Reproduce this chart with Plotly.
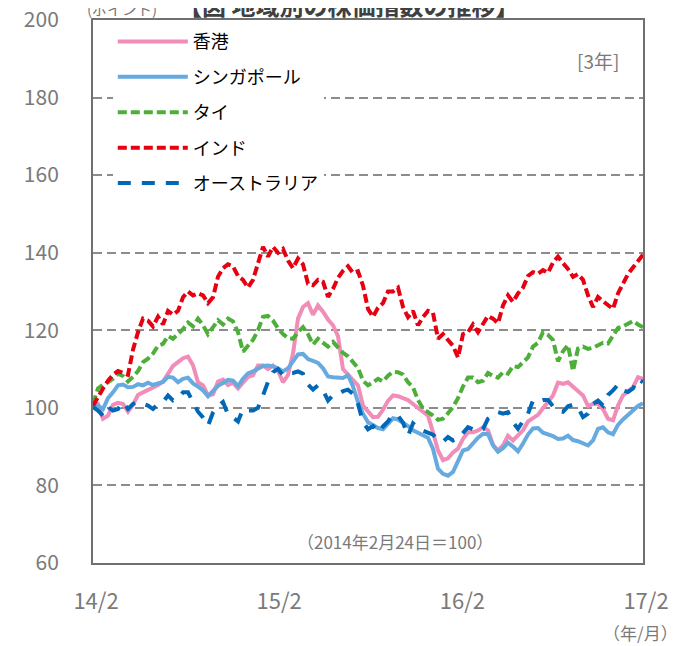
import plotly.graph_objects as go
import pandas as pd

start_date = "2014-02-24"
end_date = "2017-02-24"

series_names = ["香港", "シンガポール", "タイ", "インド", "オーストラリア"]

hongkong = [
    100.6, 101, 97.2, 98, 100.8, 101.3, 101, 99, 100.8, 103.3,
    104, 104.6, 105.3, 105.9, 106.8, 108.8, 110.8, 111.8, 112.8, 113.2,
    111, 106.6, 105.8, 103.2, 103.5, 106.8, 107.3, 105.9, 106.5, 105,
    106.6, 108, 108.4, 110.9, 110.9, 110, 110.9, 109.6, 106.6, 108.5,
    114, 123, 126, 127, 124, 126.4, 124.8, 122.8, 121.3, 118.5,
    110, 108.6, 107.5, 105.8, 100.6, 99, 97.6, 97.7, 99.5, 101.8,
    103.2, 103, 102.5, 102, 101, 100, 99.2, 98, 93.7, 89,
    86.5, 87, 88.5, 89.5, 92, 93.7, 93.7, 94.2, 95, 94.2,
    90.5, 89, 90.3, 92.8, 91.6, 92.8, 94.2, 96.5, 97.3, 98.2,
    99.9, 101.7, 103.2, 106.5, 106.2, 106.6, 105.5, 104.6, 103.2, 100.5,
    101, 101, 99.7, 97.2, 96.8, 100.6, 103.2, 104.3, 105.3, 107.9,
    107.5,
]

singapore = [
    101, 100.6, 99.7, 102.5, 104, 105.8, 106, 105.3, 105.4, 106.1,
    105.8, 106.5, 105.9, 106.2, 106.7, 108, 107.8, 106.6, 107.5, 107.8,
    106.3, 105.5, 104.5, 103, 104.2, 105.7, 106.4, 107.2, 107, 105.6,
    107.5, 108.9, 109.4, 110.1, 110.8, 110.9, 110.7, 110.2, 109.4, 110.2,
    112, 113.8, 113.9, 112.6, 112.1, 111.6, 110.2, 108.1, 107.9, 107.9,
    107.7, 108.4, 105.5, 101.5, 98.5, 96.3, 95.4, 94.8, 94.5, 96,
    97.3, 97, 96.2, 95.3, 94.2, 93.5, 93, 92.3, 89.4, 84.3,
    83, 82.5, 83.5, 86, 89, 89.4, 91, 92.3, 93.3, 93.2,
    90.3, 88.7, 89.6, 91, 90, 88.8, 90.8, 93.1, 94.7, 94.8,
    93.6, 93.2, 92.7, 92, 92.1, 92.8, 91.7, 91.4, 90.8, 90.3,
    91.6, 94.6, 95, 93.7, 93.2, 95.6, 97, 98.2, 99.2, 100.5,
    101.2,
]

thailand = [
    101, 105, 106, 106.6, 107.5, 108.8, 108.2, 106.8, 108, 109.5,
    111.8, 112.7, 114, 116, 116.5, 118.5, 117.8, 119, 120.3, 122,
    121, 123, 121.3, 119, 120.6, 122.6, 121.5, 123, 122.3, 119.5,
    114.5, 116, 117.5, 120, 123.5, 123.7, 122.5, 120.5, 119, 118,
    117.8, 119.5, 120.8, 119, 116.3, 117.8, 116.8, 115.8, 117, 115.7,
    114.2, 113.3, 111.6, 110.3, 107, 105.8, 106.6, 107.5, 106.8, 108.3,
    109.3, 109.2, 108.6, 106.6, 105.3, 102, 99.8, 99, 98, 96.9,
    97.2, 98.6, 100.2, 102.5, 105.5, 107.8, 107.8, 106.6, 107, 109,
    108.2, 107.8, 109.2, 108.8, 110.8, 110.5, 111.9, 113, 115.8, 116.8,
    119.5, 118.8, 117.5, 112, 114.6, 116.2, 109.5, 115.3, 115.8, 115.2,
    115.5, 116.3, 116.8, 116.6, 118.5, 120.6, 121, 121.7, 122.4, 121.5,
    120.8,
]

india = [
    100.5, 103, 105, 107, 108.5, 109.5, 109, 108.5, 115, 119.5,
    123, 122.5, 121, 123.5, 121.5, 125, 124, 125, 128.5, 130,
    129, 129.5, 129, 127, 128.5, 133.8, 136, 137, 136.5, 134,
    133, 131, 133, 137, 141.5, 139, 141.5, 140, 141, 138,
    136, 138.5, 137, 132, 131.6, 133, 132.5, 128.6, 130.7, 133.5,
    135.3, 136.5, 134.8, 135.2, 131.5, 125.5, 123.5, 125.8, 127, 130,
    130, 131, 126, 123.4, 125, 121.3, 123.4, 125, 124.5, 117.8,
    119, 117.5, 116, 113, 119, 119.5, 121.5, 119.5, 121.5, 123.7,
    123, 121.8, 126.4, 129, 127.3, 129.5, 131, 134, 135, 134.6,
    135.5, 134.8, 137.5, 139, 137.3, 135.8, 133.8, 134.5, 133, 129,
    126, 128.6, 127.5, 126.5, 125.5, 129.5, 132, 134.5, 136.2, 138,
    139.5,
]

australia = [
    100.2, 99.3, 98, 100.2, 99.3, 99.7, 101.5, 99.7, 101, 101.5,
    101, 100.6, 99.7, 101, 101.5, 103.2, 101.9, 102.3, 104, 104,
    101.5, 99, 97.5, 95.4, 98.8, 100.5, 101.5, 98.3, 97.5, 96.5,
    99.7, 99.3, 99.3, 100, 103.2, 106.7, 109.2, 110, 108.4, 109,
    109, 109.4, 108.8, 106, 104.7, 105.8, 104.5, 101.9, 103.3, 103.5,
    104.3, 104.7, 103.6, 101, 96.3, 94.5, 95.3, 93.7, 95.2, 96.5,
    98.3, 98, 96.2, 92.8, 96, 94.8, 94.1, 93.6, 93.1, 91.8,
    91.3, 92.5, 91.6, 92, 93.7, 95, 94.5, 94, 94.5, 97.2,
    98, 98.9, 98.5, 98.9, 96.3, 94.6, 96.6, 98.5, 101.9, 101.6,
    102, 102, 100.4, 99.2, 99, 100.4, 100.8, 100.1, 97.6, 98.5,
    101, 101.9, 100.6, 103.3, 104.5, 106, 104.5, 104.1, 105, 107.5,
    106.6,
]

x_tick_vals = ["2014-02-24", "2015-02-24", "2016-02-24", "2017-02-24"]
x_tick_text = ["14/2", "15/2", "16/2", "17/2"]
y_tick_vals = [60, 80, 100, 120, 140, 160, 180, 200]

FONT = "Noto Sans CJK JP"
GRAY = "#7a7a7a"

styles = [
    dict(color="#F08DB8", width=4, dash="solid"),
    dict(color="#66AADF", width=4, dash="solid"),
    dict(color="#4DAF3A", width=4, dash="9px,4px"),
    dict(color="#E60012", width=4, dash="9px,4px"),
    dict(color="#0068B7", width=4, dash="13px,11px"),
]

fig = go.Figure()
for name, vals, st in zip(series_names,
                          [hongkong, singapore, thailand, india, australia],
                          styles):
    dates = pd.date_range(start_date, end_date, periods=len(vals))
    fig.add_trace(go.Scatter(
        x=dates, y=vals, mode="lines", name=name, legendgroup=name,
        line=dict(color=st["color"], width=st["width"], dash=st["dash"]),
    ))

fig.update_layout(
    width=678, height=638,
    margin=dict(l=85, r=43, t=12, b=83, autoexpand=False),
    paper_bgcolor="white", plot_bgcolor="white",
    font=dict(family=FONT, color=GRAY, size=21),
    showlegend=True,
    legend=dict(
        x=0.036, y=0.994, xanchor="left", yanchor="top",
        bgcolor="white", borderwidth=0,
        font=dict(family=FONT, size=18, color="#000000"),
        tracegroupgap=9, itemwidth=70,
    ),
    xaxis=dict(
        type="date", automargin=False,
        range=[start_date, end_date],
        tickvals=x_tick_vals, ticktext=x_tick_text,
        showgrid=False, zeroline=False,
        showline=True, linecolor="#707070", linewidth=2, mirror=True,
        ticks="", ticklabelstandoff=18, ticklabelshift=3,
        ticklabeloverflow="allow",
        tickfont=dict(family=FONT, size=22, color=GRAY),
    ),
    yaxis=dict(
        range=[60, 200], tickvals=y_tick_vals, automargin=False,
        showgrid=True, gridcolor="#8c8c8c", gridwidth=1.5, griddash="9px,5px",
        zeroline=False,
        showline=True, linecolor="#707070", linewidth=2, mirror=True,
        ticks="outside", ticklen=28, tickcolor="rgba(255,255,255,0)",
        ticklabeloverflow="allow",
        tickfont=dict(family=FONT, size=21, color=GRAY),
    ),
    annotations=[
        dict(text="[3年]", xref="paper", yref="paper", x=0.918, y=0.926,
             xanchor="center", yanchor="middle",
             showarrow=False, font=dict(family=FONT, size=19, color=GRAY)),
        dict(text="（2014年2月24日＝100）", xref="paper", yref="paper",
             x=0.549, y=0.04, xanchor="center", yanchor="middle",
             showarrow=False,
             font=dict(family=FONT, size=17, color=GRAY)),
        dict(text="（年/月）", xref="paper", yref="paper", x=1.0, y=0,
             xanchor="center", yanchor="middle", yshift=-69, xshift=-3,
             showarrow=False, font=dict(family=FONT, size=17, color=GRAY)),
        dict(text="(ポイント)", xref="paper", yref="paper", x=-0.015, y=1,
             xanchor="left", yanchor="bottom", yshift=-1, showarrow=False,
             font=dict(family=FONT, size=15, color=GRAY)),
        dict(text="<b>【図 地域別の株価指数の推移】</b>", xref="paper", yref="paper",
             x=0.15, y=1, xanchor="left", yanchor="bottom", yshift=-4,
             showarrow=False, font=dict(family=FONT, size=24, color="#404040")),
    ],
)

fig.write_html("out.html")
